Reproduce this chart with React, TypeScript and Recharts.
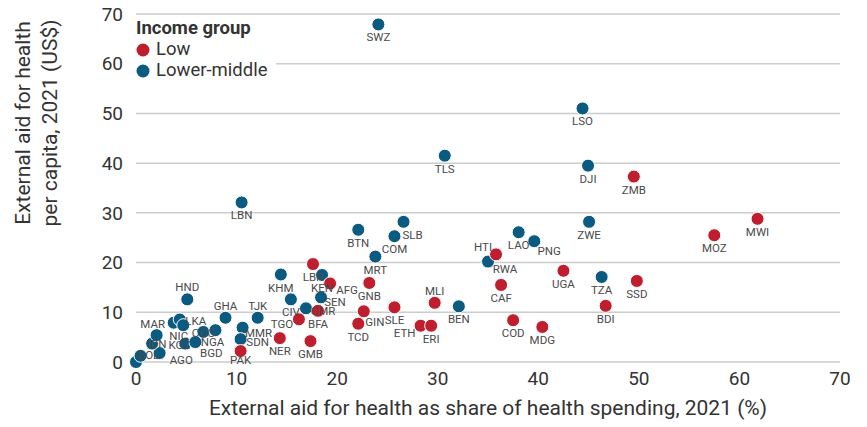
import {
  ScatterChart,
  Scatter,
  XAxis,
  YAxis,
  CartesianGrid,
  Legend,
  Label,
} from 'recharts'

// Low-income countries
const lowCodes = ['LBR', 'AFG', 'BFA', 'TGO', 'NER', 'GMB', 'PAK', 'TCD', 'GIN', 'GNB', 'SLE', 'ETH', 'ERI', 'MLI', 'RWA', 'CAF', 'COD', 'MDG', 'UGA', 'SSD', 'BDI', 'ZMB', 'MOZ', 'MWI']
const lowShare = [17.6, 19.3, 18.1, 16.2, 14.3, 17.35, 10.4, 22.1, 22.65, 23.2, 25.7, 28.3, 29.35, 29.7, 35.8, 36.3, 37.5, 40.4, 42.5, 49.8, 46.7, 49.5, 57.5, 61.8]
const lowPerCapita = [19.7, 15.8, 10.3, 8.6, 4.8, 4.2, 2.2, 7.7, 10.2, 15.9, 11.0, 7.3, 7.3, 11.9, 21.65, 15.5, 8.4, 7.05, 18.35, 16.3, 11.3, 37.3, 25.5, 28.8]

// Lower-middle-income countries ('' = unlabelled point)
const lmCodes = ['SWZ', 'LSO', 'DJI', 'ZWE', 'TLS', 'LBN', 'BTN', 'SLB', 'COM', 'MRT', 'LAO', 'PNG', 'HTI', 'TZA', 'BEN', 'KHM', 'KEN', 'SEN', 'CIV', 'CMR', 'GHA', 'TJK', 'MMR', 'SDN', 'HND', '', '', 'BOL', 'IDN', 'MAR', 'NIC', 'LKA', 'KGZ', 'AGO', 'BGD', 'COG', 'NGA']
const lmShare = [24.1, 44.4, 44.95, 45.05, 30.7, 10.5, 22.1, 26.6, 25.7, 23.8, 38.05, 39.6, 35.0, 46.3, 32.1, 14.4, 18.5, 18.4, 15.4, 16.9, 8.9, 12.1, 10.6, 10.4, 5.1, 0.0, 0.45, 2.35, 1.6, 2.05, 3.75, 4.35, 4.7, 4.9, 5.9, 6.7, 7.9]
const lmPerCapita = [67.9, 51.0, 39.5, 28.2, 41.5, 32.1, 26.6, 28.2, 25.3, 21.2, 26.1, 24.3, 20.2, 17.1, 11.2, 17.6, 17.5, 13.0, 12.6, 10.8, 8.9, 8.9, 6.9, 4.6, 12.6, 0.0, 1.25, 1.8, 3.7, 5.4, 7.9, 8.55, 7.4, 3.7, 4.0, 6.05, 6.4]

const ticks = [0, 10, 20, 30, 40, 50, 60, 70]

const RED = '#BE1E2D'
const BLUE = '#0B5A80'
const FONT = 'Roboto, sans-serif'

// where each country label sits relative to its dot (default: centred below)
const labelNudge: Record<string, [number, number]> = {
  PNG: [15, 10], HTI: [-5, -15], RWA: [9, 15], SLB: [9, 13], MLI: [0, -12],
  ETH: [-16, 7], GIN: [11, 11], SEN: [14, 5], AFG: [17, 7], CMR: [17, 3],
  TGO: [-17, 5], GHA: [0, -12], TJK: [0, -12], MMR: [16, 5], SDN: [17, 3],
  PAK: [0, 9], HND: [0, -12], BOL: [-11, 2], IDN: [5, 0], MAR: [-4, -11],
  NIC: [5, 13], LKA: [16, 2], KGZ: [-4, 20], AGO: [-4, 16], BGD: [16, 11],
  COG: [0, 1], NGA: [-3, 12],
}

const lowData = lowCodes.map((code, i) => ({ code, share: lowShare[i], perCapita: lowPerCapita[i] }))
const lmData = lmCodes.map((code, i) => ({ code, share: lmShare[i], perCapita: lmPerCapita[i] }))
const allData = [...lmData, ...lowData]

const dot = (color: string) => (props: any) => (
  <circle cx={props.cx} cy={props.cy} r={6.5} fill={color} stroke="#fff" strokeWidth={1} />
)

const countryLabel = (props: any) => {
  const code = props.payload?.code
  if (!code) return <g />
  const [dx, dy] = labelNudge[code] ?? [0, 13]
  return (
    <text
      x={props.cx + dx}
      y={props.cy + dy}
      textAnchor="middle"
      dominantBaseline="central"
      fontSize={11.5}
      fontFamily={FONT}
      fill="#4a4a4a"
    >
      {code}
    </text>
  )
}

const renderLegend = () => (
  <div style={{ background: '#fff', fontFamily: FONT, color: '#333', padding: '3px 8px 6px 6px', lineHeight: '21px' }}>
    <div style={{ fontWeight: 700, fontSize: 18.5 }}>Income group</div>
    {[
      { name: 'Low', color: RED },
      { name: 'Lower-middle', color: BLUE },
    ].map((item) => (
      <div key={item.name} style={{ display: 'flex', alignItems: 'center', fontSize: 18.5 }}>
        <svg width={14} height={14} style={{ marginRight: 6 }}>
          <circle cx={7} cy={7} r={6.5} fill={item.color} />
        </svg>
        {item.name}
      </div>
    ))}
  </div>
)

const YTitle = () => (
  <text transform="translate(0, 123) rotate(-90)" textAnchor="middle" fontSize={21} fontFamily={FONT} fill="#333">
    <tspan x={0} y={30}>External aid for health</tspan>
    <tspan x={0} y={57}>per capita, 2021 (US$)</tspan>
  </text>
)

export default function App() {
  return (
    <div style={{ position: 'absolute', left: 0, top: 0, background: '#fff' }}>
      <ScatterChart width={867} height={427} margin={{ top: 14, right: 27, bottom: 35, left: 0 }}>
        <CartesianGrid vertical={false} stroke="#cccccc" strokeWidth={1.5} />
        <XAxis
          type="number"
          dataKey="share"
          domain={[0, 70]}
          ticks={ticks}
          axisLine={false}
          tickLine={false}
          tickSize={0}
          tickMargin={10}
          height={30}
          tick={{ fontSize: 19, fill: '#333', fontFamily: FONT }}
        >
          <Label
            value="External aid for health as share of health spending, 2021 (%)"
            position="bottom"
            offset={8}
            style={{ fontSize: 21, fill: '#333', fontFamily: FONT }}
          />
        </XAxis>
        <YAxis
          type="number"
          dataKey="perCapita"
          domain={[0, 70]}
          ticks={ticks}
          axisLine={false}
          tickLine={false}
          tickSize={0}
          tickMargin={13}
          width={136}
          tick={{ fontSize: 19, fill: '#333', fontFamily: FONT }}
        >
          <Label content={YTitle} />
        </YAxis>
        <Legend
          content={renderLegend}
          layout="vertical"
          align="center"
          verticalAlign="middle"
          wrapperStyle={{ left: 130, top: 15, width: 'auto' }}
        />
        <Scatter name="Lower-middle" data={lmData} shape={dot(BLUE)} isAnimationActive={false} />
        <Scatter name="Low" data={lowData} shape={dot(RED)} isAnimationActive={false} />
        <Scatter name="labels" data={allData} shape={countryLabel} isAnimationActive={false} legendType="none" />
      </ScatterChart>
    </div>
  )
}
